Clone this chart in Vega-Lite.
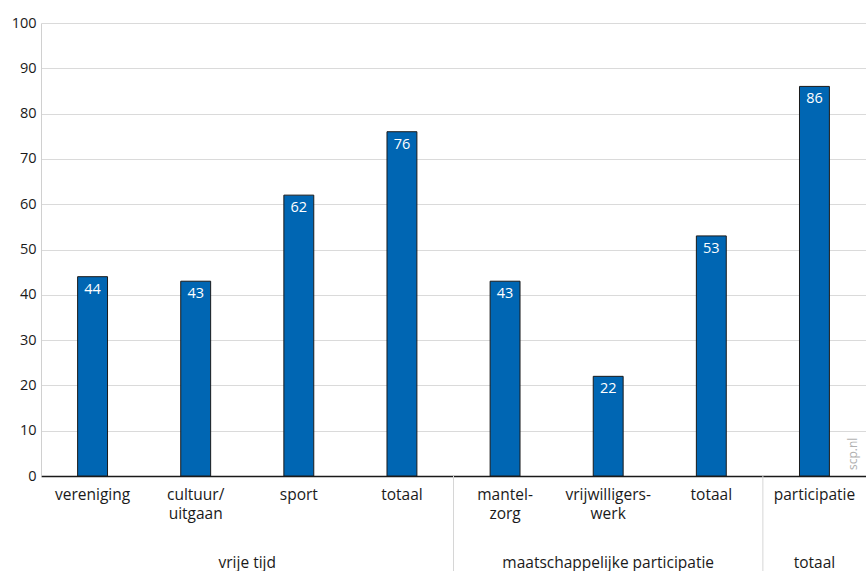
{
  "$schema": "https://vega.github.io/schema/vega-lite/v6.json",
  "width": 825,
  "height": 453,
  "autosize": {"type": "none"},
  "padding": {"left": 41, "top": 23, "right": 0, "bottom": 95},
  "background": "white",
  "config": {
    "view": {"stroke": null},
    "font": "Open Sans",
    "axis": {"labelFont": "Open Sans", "titleFont": "Open Sans"}
  },
  "datasets": {
    "bars": [
      {"cat": "1 vereniging", "v": 44},
      {"cat": "2 cultuur/~uitgaan", "v": 43},
      {"cat": "3 sport", "v": 62},
      {"cat": "4 totaal", "v": 76},
      {"cat": "5 mantel-~zorg", "v": 43},
      {"cat": "6 vrijwilligers-~werk", "v": 22},
      {"cat": "7 totaal", "v": 53},
      {"cat": "8 participatie", "v": 86}
    ]
  },
  "layer": [
    {
      "data": {"name": "bars"},
      "mark": {"type": "bar", "fill": "#0066b3", "stroke": "#1a1a1a", "strokeWidth": 1},
      "encoding": {
        "x": {
          "field": "cat", "type": "nominal",
          "scale": {"paddingInner": 0.71, "paddingOuter": 0.355},
          "axis": {
            "title": null, "labelAngle": 0, "ticks": false, "domainColor": "#1a1a1a", "domainWidth": 1.5,
            "labelFontSize": 15.5, "labelColor": "#1a1a1a", "labelPadding": 11, "labelLineHeight": 19,
            "labelExpr": "split(slice(datum.value, 2), '~')", "grid": false
          }
        },
        "y": {
          "field": "v", "type": "quantitative",
          "scale": {"domain": [0, 100], "nice": false},
          "axis": {
            "title": null, "values": [0, 10, 20, 30, 40, 50, 60, 70, 80, 90, 100], "ticks": false,
            "domainColor": "#d0d0d0", "gridColor": "#dadada", "labelFontSize": 14.5, "labelColor": "#1a1a1a",
            "labelPadding": 5
          }
        }
      }
    },
    {
      "data": {"name": "bars"},
      "mark": {"type": "text", "color": "white", "fontSize": 14.5, "baseline": "top", "dy": 6},
      "encoding": {
        "x": {"field": "cat", "type": "nominal"},
        "y": {"field": "v", "type": "quantitative"},
        "text": {"field": "v", "type": "quantitative"}
      }
    },
    {
      "data": {"values": [{"at": "5 mantel-~zorg"}, {"at": "8 participatie"}]},
      "mark": {"type": "rule", "color": "#d6d6d6", "strokeWidth": 1},
      "encoding": {
        "x": {"field": "at", "type": "nominal", "bandPosition": -1.224},
        "y": {"datum": 0},
        "y2": {"datum": -21}
      }
    },
    {
      "data": {"values": [{"g": "vrije tijd", "at": "3 sport"}]},
      "mark": {"type": "text", "fontSize": 15.5, "color": "#1a1a1a", "baseline": "middle"},
      "encoding": {
        "x": {"field": "at", "type": "nominal", "bandPosition": -1.224},
        "y": {"datum": -19.3},
        "text": {"field": "g"}
      }
    },
    {
      "data": {"values": [{"g": "maatschappelijke participatie", "at": "6 vrijwilligers-~werk"}, {"g": "totaal", "at": "8 participatie"}]},
      "mark": {"type": "text", "fontSize": 15.5, "color": "#1a1a1a", "baseline": "middle"},
      "encoding": {
        "x": {"field": "at", "type": "nominal"},
        "y": {"datum": -19.3},
        "text": {"field": "g"}
      }
    },
    {
      "data": {"values": [{"t": "scp.nl", "at": "8 participatie"}]},
      "mark": {"type": "text", "fontSize": 12, "color": "#b0b0b0", "angle": 270, "align": "left", "baseline": "middle", "dx": 6},
      "encoding": {
        "x": {"field": "at", "type": "nominal", "bandPosition": 1.8},
        "y": {"datum": 0},
        "text": {"field": "t"}
      }
    }
  ]
}
